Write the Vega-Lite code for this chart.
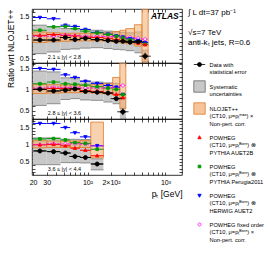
{
"$schema":"https://vega.github.io/schema/vega-lite/v6.json",
"padding":{"left":5,"top":7,"right":0,"bottom":0},
"background":"white",
"spacing":0,
"bounds":"flush",
"datasets":{
"bands":[
{"p":1,"lo":20,"hi":30,"sl":0.62,"sh":1.29,"nl":0.88,"nh":1.13},
{"p":1,"lo":30,"hi":45,"sl":0.66,"sh":1.26,"nl":0.90,"nh":1.11},
{"p":1,"lo":45,"hi":60,"sl":0.72,"sh":1.21,"nl":0.91,"nh":1.10},
{"p":1,"lo":60,"hi":80,"sl":0.73,"sh":1.20,"nl":0.92,"nh":1.10},
{"p":1,"lo":80,"hi":110,"sl":0.75,"sh":1.19,"nl":0.92,"nh":1.10},
{"p":1,"lo":110,"hi":160,"sl":0.76,"sh":1.17,"nl":0.92,"nh":1.10},
{"p":1,"lo":160,"hi":210,"sl":0.74,"sh":1.15,"nl":0.91,"nh":1.11},
{"p":1,"lo":210,"hi":260,"sl":0.72,"sh":1.13,"nl":0.89,"nh":1.14},
{"p":1,"lo":260,"hi":310,"sl":0.71,"sh":1.12,"nl":0.87,"nh":1.17},
{"p":1,"lo":310,"hi":400,"sl":0.69,"sh":1.11,"nl":0.85,"nh":1.21},
{"p":1,"lo":400,"hi":500,"sl":0.64,"sh":1.13,"nl":0.80,"nh":1.30},
{"p":1,"lo":500,"hi":600,"sl":0.43,"sh":0.70,"nl":0.42,"nh":1.66},
{"p":2,"lo":20,"hi":30,"sl":0.62,"sh":1.43,"nl":0.90,"nh":1.12},
{"p":2,"lo":30,"hi":45,"sl":0.66,"sh":1.41,"nl":0.91,"nh":1.11},
{"p":2,"lo":45,"hi":60,"sl":0.76,"sh":1.27,"nl":0.92,"nh":1.10},
{"p":2,"lo":60,"hi":80,"sl":0.78,"sh":1.25,"nl":0.92,"nh":1.10},
{"p":2,"lo":80,"hi":110,"sl":0.75,"sh":1.20,"nl":0.92,"nh":1.10},
{"p":2,"lo":110,"hi":160,"sl":0.74,"sh":1.17,"nl":0.91,"nh":1.11},
{"p":2,"lo":160,"hi":210,"sl":0.70,"sh":1.15,"nl":0.89,"nh":1.14},
{"p":2,"lo":210,"hi":260,"sl":0.66,"sh":1.14,"nl":0.86,"nh":1.28},
{"p":2,"lo":260,"hi":310,"sl":0.30,"sh":0.78,"nl":0.55,"nh":1.66},
{"p":3,"lo":20,"hi":30,"sl":0.42,"sh":1.20,"nl":0.91,"nh":1.12},
{"p":3,"lo":30,"hi":45,"sl":0.42,"sh":1.20,"nl":0.92,"nh":1.11},
{"p":3,"lo":45,"hi":60,"sl":0.48,"sh":1.16,"nl":0.92,"nh":1.11},
{"p":3,"lo":60,"hi":80,"sl":0.48,"sh":1.16,"nl":0.92,"nh":1.11},
{"p":3,"lo":80,"hi":110,"sl":0.47,"sh":1.15,"nl":0.92,"nh":1.12},
{"p":3,"lo":110,"hi":160,"sl":0.27,"sh":0.59,"nl":0.62,"nh":1.66}
],
"pts":[
{"p":1,"s":"F","lo":20,"hi":30,"c":24.5,"v":1.03},{"p":1,"s":"F","lo":30,"hi":45,"c":36.7,"v":1.03},{"p":1,"s":"F","lo":45,"hi":60,"c":52,"v":1.06},{"p":1,"s":"F","lo":60,"hi":80,"c":69,"v":1.04},{"p":1,"s":"F","lo":80,"hi":110,"c":94,"v":1.03},{"p":1,"s":"F","lo":110,"hi":160,"c":133,"v":1.03},{"p":1,"s":"F","lo":160,"hi":210,"c":183,"v":1.02},{"p":1,"s":"F","lo":210,"hi":260,"c":234,"v":1.02},{"p":1,"s":"F","lo":260,"hi":310,"c":284,"v":1.01},{"p":1,"s":"F","lo":310,"hi":400,"c":352,"v":1.00},{"p":1,"s":"F","lo":400,"hi":500,"c":447,"v":0.98},{"p":1,"s":"F","lo":500,"hi":600,"c":548,"v":0.96},
{"p":1,"s":"H","lo":20,"hi":30,"c":24.5,"v":1.47},{"p":1,"s":"H","lo":30,"hi":45,"c":36.7,"v":1.44},{"p":1,"s":"H","lo":45,"hi":60,"c":52,"v":1.29},{"p":1,"s":"H","lo":60,"hi":80,"c":69,"v":1.26},{"p":1,"s":"H","lo":80,"hi":110,"c":94,"v":1.19},{"p":1,"s":"H","lo":110,"hi":160,"c":133,"v":1.12},{"p":1,"s":"H","lo":160,"hi":210,"c":183,"v":1.08},{"p":1,"s":"H","lo":210,"hi":260,"c":234,"v":1.04},{"p":1,"s":"H","lo":260,"hi":310,"c":284,"v":1.01},{"p":1,"s":"H","lo":310,"hi":400,"c":352,"v":0.97},{"p":1,"s":"H","lo":400,"hi":500,"c":447,"v":0.93},{"p":1,"s":"H","lo":500,"hi":600,"c":548,"v":0.88},
{"p":1,"s":"P","lo":20,"hi":30,"c":24.5,"v":1.17},{"p":1,"s":"P","lo":30,"hi":45,"c":36.7,"v":1.25},{"p":1,"s":"P","lo":45,"hi":60,"c":52,"v":1.26},{"p":1,"s":"P","lo":60,"hi":80,"c":69,"v":1.21},{"p":1,"s":"P","lo":80,"hi":110,"c":94,"v":1.15},{"p":1,"s":"P","lo":110,"hi":160,"c":133,"v":1.11},{"p":1,"s":"P","lo":160,"hi":210,"c":183,"v":1.07},{"p":1,"s":"P","lo":210,"hi":260,"c":234,"v":1.03},{"p":1,"s":"P","lo":260,"hi":310,"c":284,"v":0.99},{"p":1,"s":"P","lo":310,"hi":400,"c":352,"v":0.94},{"p":1,"s":"P","lo":400,"hi":500,"c":447,"v":0.89},{"p":1,"s":"P","lo":500,"hi":600,"c":548,"v":0.84},
{"p":1,"s":"A","lo":20,"hi":30,"c":24.5,"v":1.05},{"p":1,"s":"A","lo":30,"hi":45,"c":36.7,"v":1.07},{"p":1,"s":"A","lo":45,"hi":60,"c":52,"v":1.05},{"p":1,"s":"A","lo":60,"hi":80,"c":69,"v":1.04},{"p":1,"s":"A","lo":80,"hi":110,"c":94,"v":1.01},{"p":1,"s":"A","lo":110,"hi":160,"c":133,"v":1.00},{"p":1,"s":"A","lo":160,"hi":210,"c":183,"v":0.98},{"p":1,"s":"A","lo":210,"hi":260,"c":234,"v":0.95},{"p":1,"s":"A","lo":260,"hi":310,"c":284,"v":0.93},{"p":1,"s":"A","lo":310,"hi":400,"c":352,"v":0.90},{"p":1,"s":"A","lo":400,"hi":500,"c":447,"v":0.87},{"p":1,"s":"A","lo":500,"hi":600,"c":548,"v":0.83},
{"p":2,"s":"F","lo":20,"hi":30,"c":24.5,"v":1.03},{"p":2,"s":"F","lo":30,"hi":45,"c":36.7,"v":1.05},{"p":2,"s":"F","lo":45,"hi":60,"c":52,"v":1.04},{"p":2,"s":"F","lo":60,"hi":80,"c":69,"v":1.05},{"p":2,"s":"F","lo":80,"hi":110,"c":94,"v":1.03},{"p":2,"s":"F","lo":110,"hi":160,"c":133,"v":1.03},{"p":2,"s":"F","lo":160,"hi":210,"c":183,"v":1.04},{"p":2,"s":"F","lo":210,"hi":260,"c":234,"v":1.05},{"p":2,"s":"F","lo":260,"hi":310,"c":284,"v":1.09},
{"p":2,"s":"H","lo":20,"hi":30,"c":24.5,"v":1.49},{"p":2,"s":"H","lo":30,"hi":45,"c":36.7,"v":1.47},{"p":2,"s":"H","lo":45,"hi":60,"c":52,"v":1.34},{"p":2,"s":"H","lo":60,"hi":80,"c":69,"v":1.28},{"p":2,"s":"H","lo":80,"hi":110,"c":94,"v":1.19},{"p":2,"s":"H","lo":110,"hi":160,"c":133,"v":1.14},{"p":2,"s":"H","lo":160,"hi":210,"c":183,"v":1.09},{"p":2,"s":"H","lo":210,"hi":260,"c":234,"v":1.05},{"p":2,"s":"H","lo":260,"hi":310,"c":284,"v":0.88},
{"p":2,"s":"P","lo":20,"hi":30,"c":24.5,"v":1.13},{"p":2,"s":"P","lo":30,"hi":45,"c":36.7,"v":1.17},{"p":2,"s":"P","lo":45,"hi":60,"c":52,"v":1.13},{"p":2,"s":"P","lo":60,"hi":80,"c":69,"v":1.12},{"p":2,"s":"P","lo":80,"hi":110,"c":94,"v":1.10},{"p":2,"s":"P","lo":110,"hi":160,"c":133,"v":1.06},{"p":2,"s":"P","lo":160,"hi":210,"c":183,"v":1.03},{"p":2,"s":"P","lo":210,"hi":260,"c":234,"v":1.00},{"p":2,"s":"P","lo":260,"hi":310,"c":284,"v":0.87},
{"p":2,"s":"A","lo":20,"hi":30,"c":24.5,"v":1.00},{"p":2,"s":"A","lo":30,"hi":45,"c":36.7,"v":1.02},{"p":2,"s":"A","lo":45,"hi":60,"c":52,"v":1.02},{"p":2,"s":"A","lo":60,"hi":80,"c":69,"v":1.00},{"p":2,"s":"A","lo":80,"hi":110,"c":94,"v":0.97},{"p":2,"s":"A","lo":110,"hi":160,"c":133,"v":0.95},{"p":2,"s":"A","lo":160,"hi":210,"c":183,"v":0.92},{"p":2,"s":"A","lo":210,"hi":260,"c":234,"v":0.88},{"p":2,"s":"A","lo":260,"hi":310,"c":284,"v":0.80},
{"p":3,"s":"F","lo":20,"hi":30,"c":24.5,"v":1.00},{"p":3,"s":"F","lo":30,"hi":45,"c":36.7,"v":1.03},{"p":3,"s":"F","lo":45,"hi":60,"c":52,"v":1.02},{"p":3,"s":"F","lo":60,"hi":80,"c":69,"v":1.03},{"p":3,"s":"F","lo":80,"hi":110,"c":94,"v":1.02},{"p":3,"s":"F","lo":110,"hi":160,"c":133,"v":0.97},
{"p":3,"s":"H","lo":20,"hi":30,"c":24.5,"v":1.62},{"p":3,"s":"H","lo":30,"hi":45,"c":36.7,"v":1.62},{"p":3,"s":"H","lo":45,"hi":60,"c":52,"v":1.50},{"p":3,"s":"H","lo":60,"hi":80,"c":69,"v":1.35},{"p":3,"s":"H","lo":80,"hi":110,"c":94,"v":1.23},{"p":3,"s":"H","lo":110,"hi":160,"c":133,"v":0.97},
{"p":3,"s":"P","lo":20,"hi":30,"c":24.5,"v":1.17},{"p":3,"s":"P","lo":30,"hi":45,"c":36.7,"v":1.18},{"p":3,"s":"P","lo":45,"hi":60,"c":52,"v":1.14},{"p":3,"s":"P","lo":60,"hi":80,"c":69,"v":1.06},{"p":3,"s":"P","lo":80,"hi":110,"c":94,"v":1.04},{"p":3,"s":"P","lo":110,"hi":160,"c":133,"v":0.87},
{"p":3,"s":"A","lo":20,"hi":30,"c":24.5,"v":1.00},{"p":3,"s":"A","lo":30,"hi":45,"c":36.7,"v":1.01},{"p":3,"s":"A","lo":45,"hi":60,"c":52,"v":0.97},{"p":3,"s":"A","lo":60,"hi":80,"c":69,"v":0.90},{"p":3,"s":"A","lo":80,"hi":110,"c":94,"v":0.84},{"p":3,"s":"A","lo":110,"hi":160,"c":133,"v":0.68},
{"p":1,"s":"D","lo":20,"hi":30,"c":24.5,"v":0.94,"el":0.93,"eh":0.95},{"p":1,"s":"D","lo":30,"hi":45,"c":36.7,"v":0.94,"el":0.93,"eh":0.95},{"p":1,"s":"D","lo":45,"hi":60,"c":52,"v":1.00,"el":0.99,"eh":1.01},{"p":1,"s":"D","lo":60,"hi":80,"c":69,"v":0.95,"el":0.94,"eh":0.96},{"p":1,"s":"D","lo":80,"hi":110,"c":94,"v":0.98,"el":0.97,"eh":0.99},{"p":1,"s":"D","lo":110,"hi":160,"c":133,"v":0.95,"el":0.94,"eh":0.96},{"p":1,"s":"D","lo":160,"hi":210,"c":183,"v":0.93,"el":0.92,"eh":0.94},{"p":1,"s":"D","lo":210,"hi":260,"c":234,"v":0.91,"el":0.895,"eh":0.925},{"p":1,"s":"D","lo":260,"hi":310,"c":284,"v":0.91,"el":0.89,"eh":0.93},{"p":1,"s":"D","lo":310,"hi":400,"c":352,"v":0.89,"el":0.865,"eh":0.915},{"p":1,"s":"D","lo":400,"hi":500,"c":447,"v":0.90,"el":0.865,"eh":0.935},{"p":1,"s":"D","lo":500,"hi":600,"c":548,"v":0.56,"el":0.48,"eh":0.64},
{"p":2,"s":"D","lo":20,"hi":30,"c":24.5,"v":1.00,"el":0.99,"eh":1.01},{"p":2,"s":"D","lo":30,"hi":45,"c":36.7,"v":0.96,"el":0.95,"eh":0.97},{"p":2,"s":"D","lo":45,"hi":60,"c":52,"v":0.98,"el":0.97,"eh":0.99},{"p":2,"s":"D","lo":60,"hi":80,"c":69,"v":1.01,"el":1.00,"eh":1.02},{"p":2,"s":"D","lo":80,"hi":110,"c":94,"v":0.95,"el":0.935,"eh":0.965},{"p":2,"s":"D","lo":110,"hi":160,"c":133,"v":0.93,"el":0.915,"eh":0.945},{"p":2,"s":"D","lo":160,"hi":210,"c":183,"v":0.91,"el":0.89,"eh":0.93},{"p":2,"s":"D","lo":210,"hi":260,"c":234,"v":0.78,"el":0.75,"eh":0.81},{"p":2,"s":"D","lo":260,"hi":310,"c":284,"v":0.47,"el":0.39,"eh":0.55},
{"p":3,"s":"D","lo":20,"hi":30,"c":24.5,"v":0.82,"el":0.805,"eh":0.835},{"p":3,"s":"D","lo":30,"hi":45,"c":36.7,"v":0.80,"el":0.785,"eh":0.815},{"p":3,"s":"D","lo":45,"hi":60,"c":52,"v":0.76,"el":0.745,"eh":0.775},{"p":3,"s":"D","lo":60,"hi":80,"c":69,"v":0.66,"el":0.64,"eh":0.68},{"p":3,"s":"D","lo":80,"hi":110,"c":94,"v":0.63,"el":0.61,"eh":0.65},{"p":3,"s":"D","lo":110,"hi":160,"c":133,"v":0.44,"el":0.39,"eh":0.49}
],
"notes":[
{"p":1,"k":"a","t":"ATLAS","x":1480,"y":1.51},
{"p":1,"k":"r","t":"2.1 ≤ |y| < 2.8","x":31,"y":0.54},
{"p":2,"k":"r","t":"2.8 ≤ |y| < 3.6","x":31,"y":0.43},
{"p":3,"k":"r","t":"3.6 ≤ |y| < 4.4","x":31,"y":0.30}
]
},
"vconcat":[
{"width":150,"height":54,"resolve":{"axis":{"x":"independent","y":"independent"}},"layer":[
{"data":{"name":"bands"},"transform":[{"filter":"datum.p==1"}],"mark":{"type":"rect","fill":"#c8c8c8","clip":true},
"encoding":{"x":{"field":"lo","type":"quantitative","scale":{"type":"log","domain":[19.4,1630],"nice":false},"axis":{"orient":"bottom","title":null,"labels":false,"values":[20,30,40,50,60,70,80,90,100,200,300,400,500,600,700,800,900,1000]}},"x2":{"field":"hi"},
"y":{"field":"sl","type":"quantitative","scale":{"domain":[0.40,1.67],"nice":false,"zero":false},"axis":{"orient":"left","title":"Ratio wrt NLOJET++","titleAnchor":"end","values":[0.5,0.6,0.7,0.8,0.9,1,1.1,1.2,1.3,1.4,1.5,1.6],"labelExpr":"datum.value==1?'1':datum.value==0.5?'0.5':datum.value==1.5?'1.5':''","labelOverlap":false,"labelFlush":false,"labelBound":false}},"y2":{"field":"sh"}}},
{"data":{"name":"bands"},"transform":[{"filter":"datum.p==1"}],"mark":{"type":"rule","stroke":"#777777","strokeWidth":0.8,"clip":true},
"encoding":{"x":{"field":"lo","type":"quantitative","axis":{"orient":"top","title":null,"labels":false,"values":[20,30,40,50,60,70,80,90,100,200,300,400,500,600,700,800,900,1000]}},"x2":{"field":"hi"},"y":{"field":"sl","type":"quantitative","axis":{"orient":"right","title":null,"labels":false,"values":[0.5,0.6,0.7,0.8,0.9,1,1.1,1.2,1.3,1.4,1.5,1.6]}}}},
{"data":{"name":"bands"},"transform":[{"filter":"datum.p==1"}],"mark":{"type":"rule","stroke":"#777777","strokeWidth":0.8,"clip":true},
"encoding":{"x":{"field":"lo","type":"quantitative","axis":null},"x2":{"field":"hi"},"y":{"field":"sh","type":"quantitative","axis":null}}},
{"data":{"name":"bands"},"transform":[{"filter":"datum.p==1"}],"mark":{"type":"rect","fill":"#f3b27a","fillOpacity":0.6,"stroke":"#e07b28","strokeWidth":0.8,"clip":true},
"encoding":{"x":{"field":"lo","type":"quantitative","axis":null},"x2":{"field":"hi"},"y":{"field":"nl","type":"quantitative","axis":null},"y2":{"field":"nh"}}},
{"data":{"name":"pts"},"transform":[{"filter":"datum.p==1 && datum.s!='F'"}],"mark":{"type":"rule","strokeWidth":1,"clip":true},
"encoding":{"x":{"field":"lo","type":"quantitative","axis":null},"x2":{"field":"hi"},"y":{"field":"v","type":"quantitative","axis":null},
"stroke":{"field":"s","type":"nominal","scale":{"domain":["D","S","N","A","P","H","F"],"range":["black","#666666","#e07b28","#ff0000","#009a00","#0000ff","#ff00ff"]}}}},
{"data":{"name":"pts"},"transform":[{"filter":"datum.p==1 && datum.s=='F'"}],"mark":{"type":"rule","strokeWidth":1,"stroke":"#ff00ff","strokeDash":[2,1.5],"clip":true},
"encoding":{"x":{"field":"lo","type":"quantitative","axis":null},"x2":{"field":"hi"},"y":{"field":"v","type":"quantitative","axis":null}}},
{"data":{"name":"pts"},"transform":[{"filter":"datum.p==1 && datum.s=='D'"}],"mark":{"type":"rule","stroke":"black","strokeWidth":0.9,"clip":true},
"encoding":{"x":{"field":"c","type":"quantitative","axis":null},"y":{"field":"el","type":"quantitative","axis":null},"y2":{"field":"eh"}}},
{"data":{"name":"pts"},"transform":[{"filter":"datum.p==1"}],"mark":{"type":"point","filled":true,"size":130,"strokeWidth":0.8,"opacity":1,"clip":true},
"encoding":{"x":{"field":"c","type":"quantitative","axis":null},"y":{"field":"v","type":"quantitative","axis":null},
"shape":{"field":"s","type":"nominal","title":["∫ L dt=37 pb⁻¹","\u200b","√s=7 TeV","anti-kₜ  jets,  R=0.6"],"scale":{"domain":["D","S","N","A","P","H","F"],"range":["M-1,0L1,0M0.36,0A0.36,0.36,0,1,1,-0.36,0A0.36,0.36,0,1,1,0.36,0Z","square","square","M0,-0.32L0.3,0.22L-0.3,0.22Z","M-0.24,-0.24L0.24,-0.24L0.24,0.24L-0.24,0.24Z","M0,0.32L0.3,-0.22L-0.3,-0.22Z","M0.27,0A0.27,0.27,0,1,1,-0.27,0A0.27,0.27,0,1,1,0.27,0Z"]},
"legend":{"labelExpr":"{'D':['Data with','statistical error'],'S':['Systematic','uncertainties'],'N':['NLOJET++','(CT10, μ=pₜᵐᵃˣ) ×','Non-pert. corr.'],'A':['POWHEG','(CT10, μ=pₜᴮᵒʳⁿ) ⊗','PYTHIA  AUET2B'],'P':['POWHEG','(CT10, μ=pₜᴮᵒʳⁿ) ⊗','PYTHIA  Perugia2011'],'H':['POWHEG','(CT10, μ=pₜᴮᵒʳⁿ) ⊗','HERWIG  AUET2'],'F':['POWHEG fixed order','(CT10, μ=pₜᴮᵒʳⁿ) ×','Non-pert. corr.']}[datum.label]","encode":{"labels":{"lineHeight":{"value":8.3}}}}},
"fill":{"field":"s","type":"nominal","title":["∫ L dt=37 pb⁻¹","\u200b","√s=7 TeV","anti-kₜ  jets,  R=0.6"],"scale":{"domain":["D","S","N","A","P","H","F"],"range":["black","#c8c8c8","#f6c49a","#ff0000","#009a00","#0000ff","white"]},
"legend":{"labelExpr":"{'D':['Data with','statistical error'],'S':['Systematic','uncertainties'],'N':['NLOJET++','(CT10, μ=pₜᵐᵃˣ) ×','Non-pert. corr.'],'A':['POWHEG','(CT10, μ=pₜᴮᵒʳⁿ) ⊗','PYTHIA  AUET2B'],'P':['POWHEG','(CT10, μ=pₜᴮᵒʳⁿ) ⊗','PYTHIA  Perugia2011'],'H':['POWHEG','(CT10, μ=pₜᴮᵒʳⁿ) ⊗','HERWIG  AUET2'],'F':['POWHEG fixed order','(CT10, μ=pₜᴮᵒʳⁿ) ×','Non-pert. corr.']}[datum.label]","encode":{"labels":{"lineHeight":{"value":8.3}}}}},
"stroke":{"field":"s","type":"nominal","title":["∫ L dt=37 pb⁻¹","\u200b","√s=7 TeV","anti-kₜ  jets,  R=0.6"],"scale":{"domain":["D","S","N","A","P","H","F"],"range":["black","#666666","#e07b28","#ff0000","#009a00","#0000ff","#ff00ff"]},
"legend":{"labelExpr":"{'D':['Data with','statistical error'],'S':['Systematic','uncertainties'],'N':['NLOJET++','(CT10, μ=pₜᵐᵃˣ) ×','Non-pert. corr.'],'A':['POWHEG','(CT10, μ=pₜᴮᵒʳⁿ) ⊗','PYTHIA  AUET2B'],'P':['POWHEG','(CT10, μ=pₜᴮᵒʳⁿ) ⊗','PYTHIA  Perugia2011'],'H':['POWHEG','(CT10, μ=pₜᴮᵒʳⁿ) ⊗','HERWIG  AUET2'],'F':['POWHEG fixed order','(CT10, μ=pₜᴮᵒʳⁿ) ×','Non-pert. corr.']}[datum.label]","encode":{"labels":{"lineHeight":{"value":8.3}}}}}}},
{"data":{"name":"notes"},"transform":[{"filter":"datum.p==1 && datum.k=='a'"}],"mark":{"type":"text","font":"Liberation Sans","fontWeight":"bold","fontStyle":"italic","fontSize":8.5,"align":"right","baseline":"middle","color":"black"},
"encoding":{"x":{"field":"x","type":"quantitative","axis":null},"y":{"field":"y","type":"quantitative","axis":null},"text":{"field":"t"}}},
{"data":{"name":"notes"},"transform":[{"filter":"datum.p==1 && datum.k=='r'"}],"mark":{"type":"text","font":"Liberation Sans","fontSize":5.5,"align":"left","baseline":"middle","color":"black"},
"encoding":{"x":{"field":"x","type":"quantitative","axis":null},"y":{"field":"y","type":"quantitative","axis":null},"text":{"field":"t"}}}
]},
{"width":150,"height":56,"resolve":{"axis":{"x":"independent","y":"independent"}},"layer":[
{"data":{"name":"bands"},"transform":[{"filter":"datum.p==2"}],"mark":{"type":"rect","fill":"#c8c8c8","clip":true},
"encoding":{"x":{"field":"lo","type":"quantitative","scale":{"type":"log","domain":[19.4,1630],"nice":false},"axis":{"orient":"bottom","title":null,"labels":false,"values":[20,30,40,50,60,70,80,90,100,200,300,400,500,600,700,800,900,1000]}},"x2":{"field":"hi"},
"y":{"field":"sl","type":"quantitative","scale":{"domain":[0.30,1.62],"nice":false,"zero":false},"axis":{"orient":"left","title":null,"values":[0.4,0.5,0.6,0.7,0.8,0.9,1,1.1,1.2,1.3,1.4,1.5,1.6],"labelExpr":"datum.value==1?'1':datum.value==0.5?'0.5':datum.value==1.5?'1.5':''","labelOverlap":false,"labelFlush":false,"labelBound":false}},"y2":{"field":"sh"}}},
{"data":{"name":"bands"},"transform":[{"filter":"datum.p==2"}],"mark":{"type":"rule","stroke":"#777777","strokeWidth":0.8,"clip":true},
"encoding":{"x":{"field":"lo","type":"quantitative","axis":{"orient":"top","title":null,"labels":false,"values":[20,30,40,50,60,70,80,90,100,200,300,400,500,600,700,800,900,1000]}},"x2":{"field":"hi"},"y":{"field":"sl","type":"quantitative","axis":{"orient":"right","title":null,"labels":false,"values":[0.4,0.5,0.6,0.7,0.8,0.9,1,1.1,1.2,1.3,1.4,1.5,1.6]}}}},
{"data":{"name":"bands"},"transform":[{"filter":"datum.p==2"}],"mark":{"type":"rule","stroke":"#777777","strokeWidth":0.8,"clip":true},
"encoding":{"x":{"field":"lo","type":"quantitative","axis":null},"x2":{"field":"hi"},"y":{"field":"sh","type":"quantitative","axis":null}}},
{"data":{"name":"bands"},"transform":[{"filter":"datum.p==2"}],"mark":{"type":"rect","fill":"#f3b27a","fillOpacity":0.6,"stroke":"#e07b28","strokeWidth":0.8,"clip":true},
"encoding":{"x":{"field":"lo","type":"quantitative","axis":null},"x2":{"field":"hi"},"y":{"field":"nl","type":"quantitative","axis":null},"y2":{"field":"nh"}}},
{"data":{"name":"pts"},"transform":[{"filter":"datum.p==2 && datum.s!='F'"}],"mark":{"type":"rule","strokeWidth":1,"clip":true},
"encoding":{"x":{"field":"lo","type":"quantitative","axis":null},"x2":{"field":"hi"},"y":{"field":"v","type":"quantitative","axis":null},
"stroke":{"field":"s","type":"nominal","scale":{"domain":["D","S","N","A","P","H","F"],"range":["black","#666666","#e07b28","#ff0000","#009a00","#0000ff","#ff00ff"]}}}},
{"data":{"name":"pts"},"transform":[{"filter":"datum.p==2 && datum.s=='F'"}],"mark":{"type":"rule","strokeWidth":1,"stroke":"#ff00ff","strokeDash":[2,1.5],"clip":true},
"encoding":{"x":{"field":"lo","type":"quantitative","axis":null},"x2":{"field":"hi"},"y":{"field":"v","type":"quantitative","axis":null}}},
{"data":{"name":"pts"},"transform":[{"filter":"datum.p==2 && datum.s=='D'"}],"mark":{"type":"rule","stroke":"black","strokeWidth":0.9,"clip":true},
"encoding":{"x":{"field":"c","type":"quantitative","axis":null},"y":{"field":"el","type":"quantitative","axis":null},"y2":{"field":"eh"}}},
{"data":{"name":"pts"},"transform":[{"filter":"datum.p==2"}],"mark":{"type":"point","filled":true,"size":130,"strokeWidth":0.8,"opacity":1,"clip":true},
"encoding":{"x":{"field":"c","type":"quantitative","axis":null},"y":{"field":"v","type":"quantitative","axis":null},
"shape":{"field":"s","type":"nominal","title":["∫ L dt=37 pb⁻¹","\u200b","√s=7 TeV","anti-kₜ  jets,  R=0.6"],"scale":{"domain":["D","S","N","A","P","H","F"],"range":["M-1,0L1,0M0.36,0A0.36,0.36,0,1,1,-0.36,0A0.36,0.36,0,1,1,0.36,0Z","square","square","M0,-0.32L0.3,0.22L-0.3,0.22Z","M-0.24,-0.24L0.24,-0.24L0.24,0.24L-0.24,0.24Z","M0,0.32L0.3,-0.22L-0.3,-0.22Z","M0.27,0A0.27,0.27,0,1,1,-0.27,0A0.27,0.27,0,1,1,0.27,0Z"]},
"legend":{"labelExpr":"{'D':['Data with','statistical error'],'S':['Systematic','uncertainties'],'N':['NLOJET++','(CT10, μ=pₜᵐᵃˣ) ×','Non-pert. corr.'],'A':['POWHEG','(CT10, μ=pₜᴮᵒʳⁿ) ⊗','PYTHIA  AUET2B'],'P':['POWHEG','(CT10, μ=pₜᴮᵒʳⁿ) ⊗','PYTHIA  Perugia2011'],'H':['POWHEG','(CT10, μ=pₜᴮᵒʳⁿ) ⊗','HERWIG  AUET2'],'F':['POWHEG fixed order','(CT10, μ=pₜᴮᵒʳⁿ) ×','Non-pert. corr.']}[datum.label]","encode":{"labels":{"lineHeight":{"value":8.3}}}}},
"fill":{"field":"s","type":"nominal","title":["∫ L dt=37 pb⁻¹","\u200b","√s=7 TeV","anti-kₜ  jets,  R=0.6"],"scale":{"domain":["D","S","N","A","P","H","F"],"range":["black","#c8c8c8","#f6c49a","#ff0000","#009a00","#0000ff","white"]},
"legend":{"labelExpr":"{'D':['Data with','statistical error'],'S':['Systematic','uncertainties'],'N':['NLOJET++','(CT10, μ=pₜᵐᵃˣ) ×','Non-pert. corr.'],'A':['POWHEG','(CT10, μ=pₜᴮᵒʳⁿ) ⊗','PYTHIA  AUET2B'],'P':['POWHEG','(CT10, μ=pₜᴮᵒʳⁿ) ⊗','PYTHIA  Perugia2011'],'H':['POWHEG','(CT10, μ=pₜᴮᵒʳⁿ) ⊗','HERWIG  AUET2'],'F':['POWHEG fixed order','(CT10, μ=pₜᴮᵒʳⁿ) ×','Non-pert. corr.']}[datum.label]","encode":{"labels":{"lineHeight":{"value":8.3}}}}},
"stroke":{"field":"s","type":"nominal","title":["∫ L dt=37 pb⁻¹","\u200b","√s=7 TeV","anti-kₜ  jets,  R=0.6"],"scale":{"domain":["D","S","N","A","P","H","F"],"range":["black","#666666","#e07b28","#ff0000","#009a00","#0000ff","#ff00ff"]},
"legend":{"labelExpr":"{'D':['Data with','statistical error'],'S':['Systematic','uncertainties'],'N':['NLOJET++','(CT10, μ=pₜᵐᵃˣ) ×','Non-pert. corr.'],'A':['POWHEG','(CT10, μ=pₜᴮᵒʳⁿ) ⊗','PYTHIA  AUET2B'],'P':['POWHEG','(CT10, μ=pₜᴮᵒʳⁿ) ⊗','PYTHIA  Perugia2011'],'H':['POWHEG','(CT10, μ=pₜᴮᵒʳⁿ) ⊗','HERWIG  AUET2'],'F':['POWHEG fixed order','(CT10, μ=pₜᴮᵒʳⁿ) ×','Non-pert. corr.']}[datum.label]","encode":{"labels":{"lineHeight":{"value":8.3}}}}}}},
{"data":{"name":"notes"},"transform":[{"filter":"datum.p==2 && datum.k=='r'"}],"mark":{"type":"text","font":"Liberation Sans","fontSize":5.5,"align":"left","baseline":"middle","color":"black"},
"encoding":{"x":{"field":"x","type":"quantitative","axis":null},"y":{"field":"y","type":"quantitative","axis":null},"text":{"field":"t"}}}
]},
{"width":150,"height":56,"resolve":{"axis":{"x":"independent","y":"independent"}},"layer":[
{"data":{"name":"bands"},"transform":[{"filter":"datum.p==3"}],"mark":{"type":"rect","fill":"#c8c8c8","clip":true},
"encoding":{"x":{"field":"lo","type":"quantitative","scale":{"type":"log","domain":[19.4,1630],"nice":false},"axis":{"orient":"bottom","title":"pₜ [GeV]","titleAnchor":"end","values":[20,30,40,50,60,70,80,90,100,200,300,400,500,600,700,800,900,1000],"labelExpr":"datum.value==20?'20':datum.value==30?'30':datum.value==100?'10²':datum.value==200?'2×10²':datum.value==1000?'10³':''","labelOverlap":false,"labelFlush":false,"labelBound":false}},"x2":{"field":"hi"},
"y":{"field":"sl","type":"quantitative","scale":{"domain":[0.12,1.75],"nice":false,"zero":false},"axis":{"orient":"left","title":null,"values":[0.2,0.3,0.4,0.5,0.6,0.7,0.8,0.9,1,1.1,1.2,1.3,1.4,1.5,1.6,1.7],"labelExpr":"datum.value==1?'1':datum.value==0.5?'0.5':datum.value==1.5?'1.5':''","labelOverlap":false,"labelFlush":false,"labelBound":false}},"y2":{"field":"sh"}}},
{"data":{"name":"bands"},"transform":[{"filter":"datum.p==3"}],"mark":{"type":"rule","stroke":"#777777","strokeWidth":0.8,"clip":true},
"encoding":{"x":{"field":"lo","type":"quantitative","axis":{"orient":"top","title":null,"labels":false,"values":[20,30,40,50,60,70,80,90,100,200,300,400,500,600,700,800,900,1000]}},"x2":{"field":"hi"},"y":{"field":"sl","type":"quantitative","axis":{"orient":"right","title":null,"labels":false,"values":[0.2,0.3,0.4,0.5,0.6,0.7,0.8,0.9,1,1.1,1.2,1.3,1.4,1.5,1.6,1.7]}}}},
{"data":{"name":"bands"},"transform":[{"filter":"datum.p==3"}],"mark":{"type":"rule","stroke":"#777777","strokeWidth":0.8,"clip":true},
"encoding":{"x":{"field":"lo","type":"quantitative","axis":null},"x2":{"field":"hi"},"y":{"field":"sh","type":"quantitative","axis":null}}},
{"data":{"name":"bands"},"transform":[{"filter":"datum.p==3"}],"mark":{"type":"rect","fill":"#f3b27a","fillOpacity":0.6,"stroke":"#e07b28","strokeWidth":0.8,"clip":true},
"encoding":{"x":{"field":"lo","type":"quantitative","axis":null},"x2":{"field":"hi"},"y":{"field":"nl","type":"quantitative","axis":null},"y2":{"field":"nh"}}},
{"data":{"name":"pts"},"transform":[{"filter":"datum.p==3 && datum.s!='F'"}],"mark":{"type":"rule","strokeWidth":1,"clip":true},
"encoding":{"x":{"field":"lo","type":"quantitative","axis":null},"x2":{"field":"hi"},"y":{"field":"v","type":"quantitative","axis":null},
"stroke":{"field":"s","type":"nominal","scale":{"domain":["D","S","N","A","P","H","F"],"range":["black","#666666","#e07b28","#ff0000","#009a00","#0000ff","#ff00ff"]}}}},
{"data":{"name":"pts"},"transform":[{"filter":"datum.p==3 && datum.s=='F'"}],"mark":{"type":"rule","strokeWidth":1,"stroke":"#ff00ff","strokeDash":[2,1.5],"clip":true},
"encoding":{"x":{"field":"lo","type":"quantitative","axis":null},"x2":{"field":"hi"},"y":{"field":"v","type":"quantitative","axis":null}}},
{"data":{"name":"pts"},"transform":[{"filter":"datum.p==3 && datum.s=='D'"}],"mark":{"type":"rule","stroke":"black","strokeWidth":0.9,"clip":true},
"encoding":{"x":{"field":"c","type":"quantitative","axis":null},"y":{"field":"el","type":"quantitative","axis":null},"y2":{"field":"eh"}}},
{"data":{"name":"pts"},"transform":[{"filter":"datum.p==3"}],"mark":{"type":"point","filled":true,"size":130,"strokeWidth":0.8,"opacity":1,"clip":true},
"encoding":{"x":{"field":"c","type":"quantitative","axis":null},"y":{"field":"v","type":"quantitative","axis":null},
"shape":{"field":"s","type":"nominal","title":["∫ L dt=37 pb⁻¹","\u200b","√s=7 TeV","anti-kₜ  jets,  R=0.6"],"scale":{"domain":["D","S","N","A","P","H","F"],"range":["M-1,0L1,0M0.36,0A0.36,0.36,0,1,1,-0.36,0A0.36,0.36,0,1,1,0.36,0Z","square","square","M0,-0.32L0.3,0.22L-0.3,0.22Z","M-0.24,-0.24L0.24,-0.24L0.24,0.24L-0.24,0.24Z","M0,0.32L0.3,-0.22L-0.3,-0.22Z","M0.27,0A0.27,0.27,0,1,1,-0.27,0A0.27,0.27,0,1,1,0.27,0Z"]},
"legend":{"labelExpr":"{'D':['Data with','statistical error'],'S':['Systematic','uncertainties'],'N':['NLOJET++','(CT10, μ=pₜᵐᵃˣ) ×','Non-pert. corr.'],'A':['POWHEG','(CT10, μ=pₜᴮᵒʳⁿ) ⊗','PYTHIA  AUET2B'],'P':['POWHEG','(CT10, μ=pₜᴮᵒʳⁿ) ⊗','PYTHIA  Perugia2011'],'H':['POWHEG','(CT10, μ=pₜᴮᵒʳⁿ) ⊗','HERWIG  AUET2'],'F':['POWHEG fixed order','(CT10, μ=pₜᴮᵒʳⁿ) ×','Non-pert. corr.']}[datum.label]","encode":{"labels":{"lineHeight":{"value":8.3}}}}},
"fill":{"field":"s","type":"nominal","title":["∫ L dt=37 pb⁻¹","\u200b","√s=7 TeV","anti-kₜ  jets,  R=0.6"],"scale":{"domain":["D","S","N","A","P","H","F"],"range":["black","#c8c8c8","#f6c49a","#ff0000","#009a00","#0000ff","white"]},
"legend":{"labelExpr":"{'D':['Data with','statistical error'],'S':['Systematic','uncertainties'],'N':['NLOJET++','(CT10, μ=pₜᵐᵃˣ) ×','Non-pert. corr.'],'A':['POWHEG','(CT10, μ=pₜᴮᵒʳⁿ) ⊗','PYTHIA  AUET2B'],'P':['POWHEG','(CT10, μ=pₜᴮᵒʳⁿ) ⊗','PYTHIA  Perugia2011'],'H':['POWHEG','(CT10, μ=pₜᴮᵒʳⁿ) ⊗','HERWIG  AUET2'],'F':['POWHEG fixed order','(CT10, μ=pₜᴮᵒʳⁿ) ×','Non-pert. corr.']}[datum.label]","encode":{"labels":{"lineHeight":{"value":8.3}}}}},
"stroke":{"field":"s","type":"nominal","title":["∫ L dt=37 pb⁻¹","\u200b","√s=7 TeV","anti-kₜ  jets,  R=0.6"],"scale":{"domain":["D","S","N","A","P","H","F"],"range":["black","#666666","#e07b28","#ff0000","#009a00","#0000ff","#ff00ff"]},
"legend":{"labelExpr":"{'D':['Data with','statistical error'],'S':['Systematic','uncertainties'],'N':['NLOJET++','(CT10, μ=pₜᵐᵃˣ) ×','Non-pert. corr.'],'A':['POWHEG','(CT10, μ=pₜᴮᵒʳⁿ) ⊗','PYTHIA  AUET2B'],'P':['POWHEG','(CT10, μ=pₜᴮᵒʳⁿ) ⊗','PYTHIA  Perugia2011'],'H':['POWHEG','(CT10, μ=pₜᴮᵒʳⁿ) ⊗','HERWIG  AUET2'],'F':['POWHEG fixed order','(CT10, μ=pₜᴮᵒʳⁿ) ×','Non-pert. corr.']}[datum.label]","encode":{"labels":{"lineHeight":{"value":8.3}}}}}}},
{"data":{"name":"notes"},"transform":[{"filter":"datum.p==3 && datum.k=='r'"}],"mark":{"type":"text","font":"Liberation Sans","fontSize":5.5,"align":"left","baseline":"middle","color":"black"},
"encoding":{"x":{"field":"x","type":"quantitative","axis":null},"y":{"field":"y","type":"quantitative","axis":null},"text":{"field":"t"}}}
]}
],
"config":{
"view":{"stroke":"black","strokeWidth":0.8},
"axis":{"labelFont":"Liberation Sans","titleFont":"Liberation Sans","labelColor":"black","titleColor":"black","tickColor":"black","tickWidth":0.7,"tickSize":-3,"domain":false,"grid":false,"labelFontSize":7,"titleFontSize":8.5,"titleFontWeight":"normal","labelFlush":false,"labelOverlap":false,"labelBound":false,"labelPadding":6,"titlePadding":4},
"legend":{"offset":5,"labelFont":"Liberation Sans","labelFontSize":5.7,"labelColor":"black","titleFont":"Liberation Sans","titleFontSize":8,"titleFontWeight":"normal","titleColor":"black","titleLineHeight":10,"titlePadding":11,"symbolSize":130,"symbolStrokeWidth":0.8,"rowPadding":4,"labelOffset":3.6,"symbolOffset":5,"padding":0,"labelLimit":200,"titleLimit":200}
}
}
